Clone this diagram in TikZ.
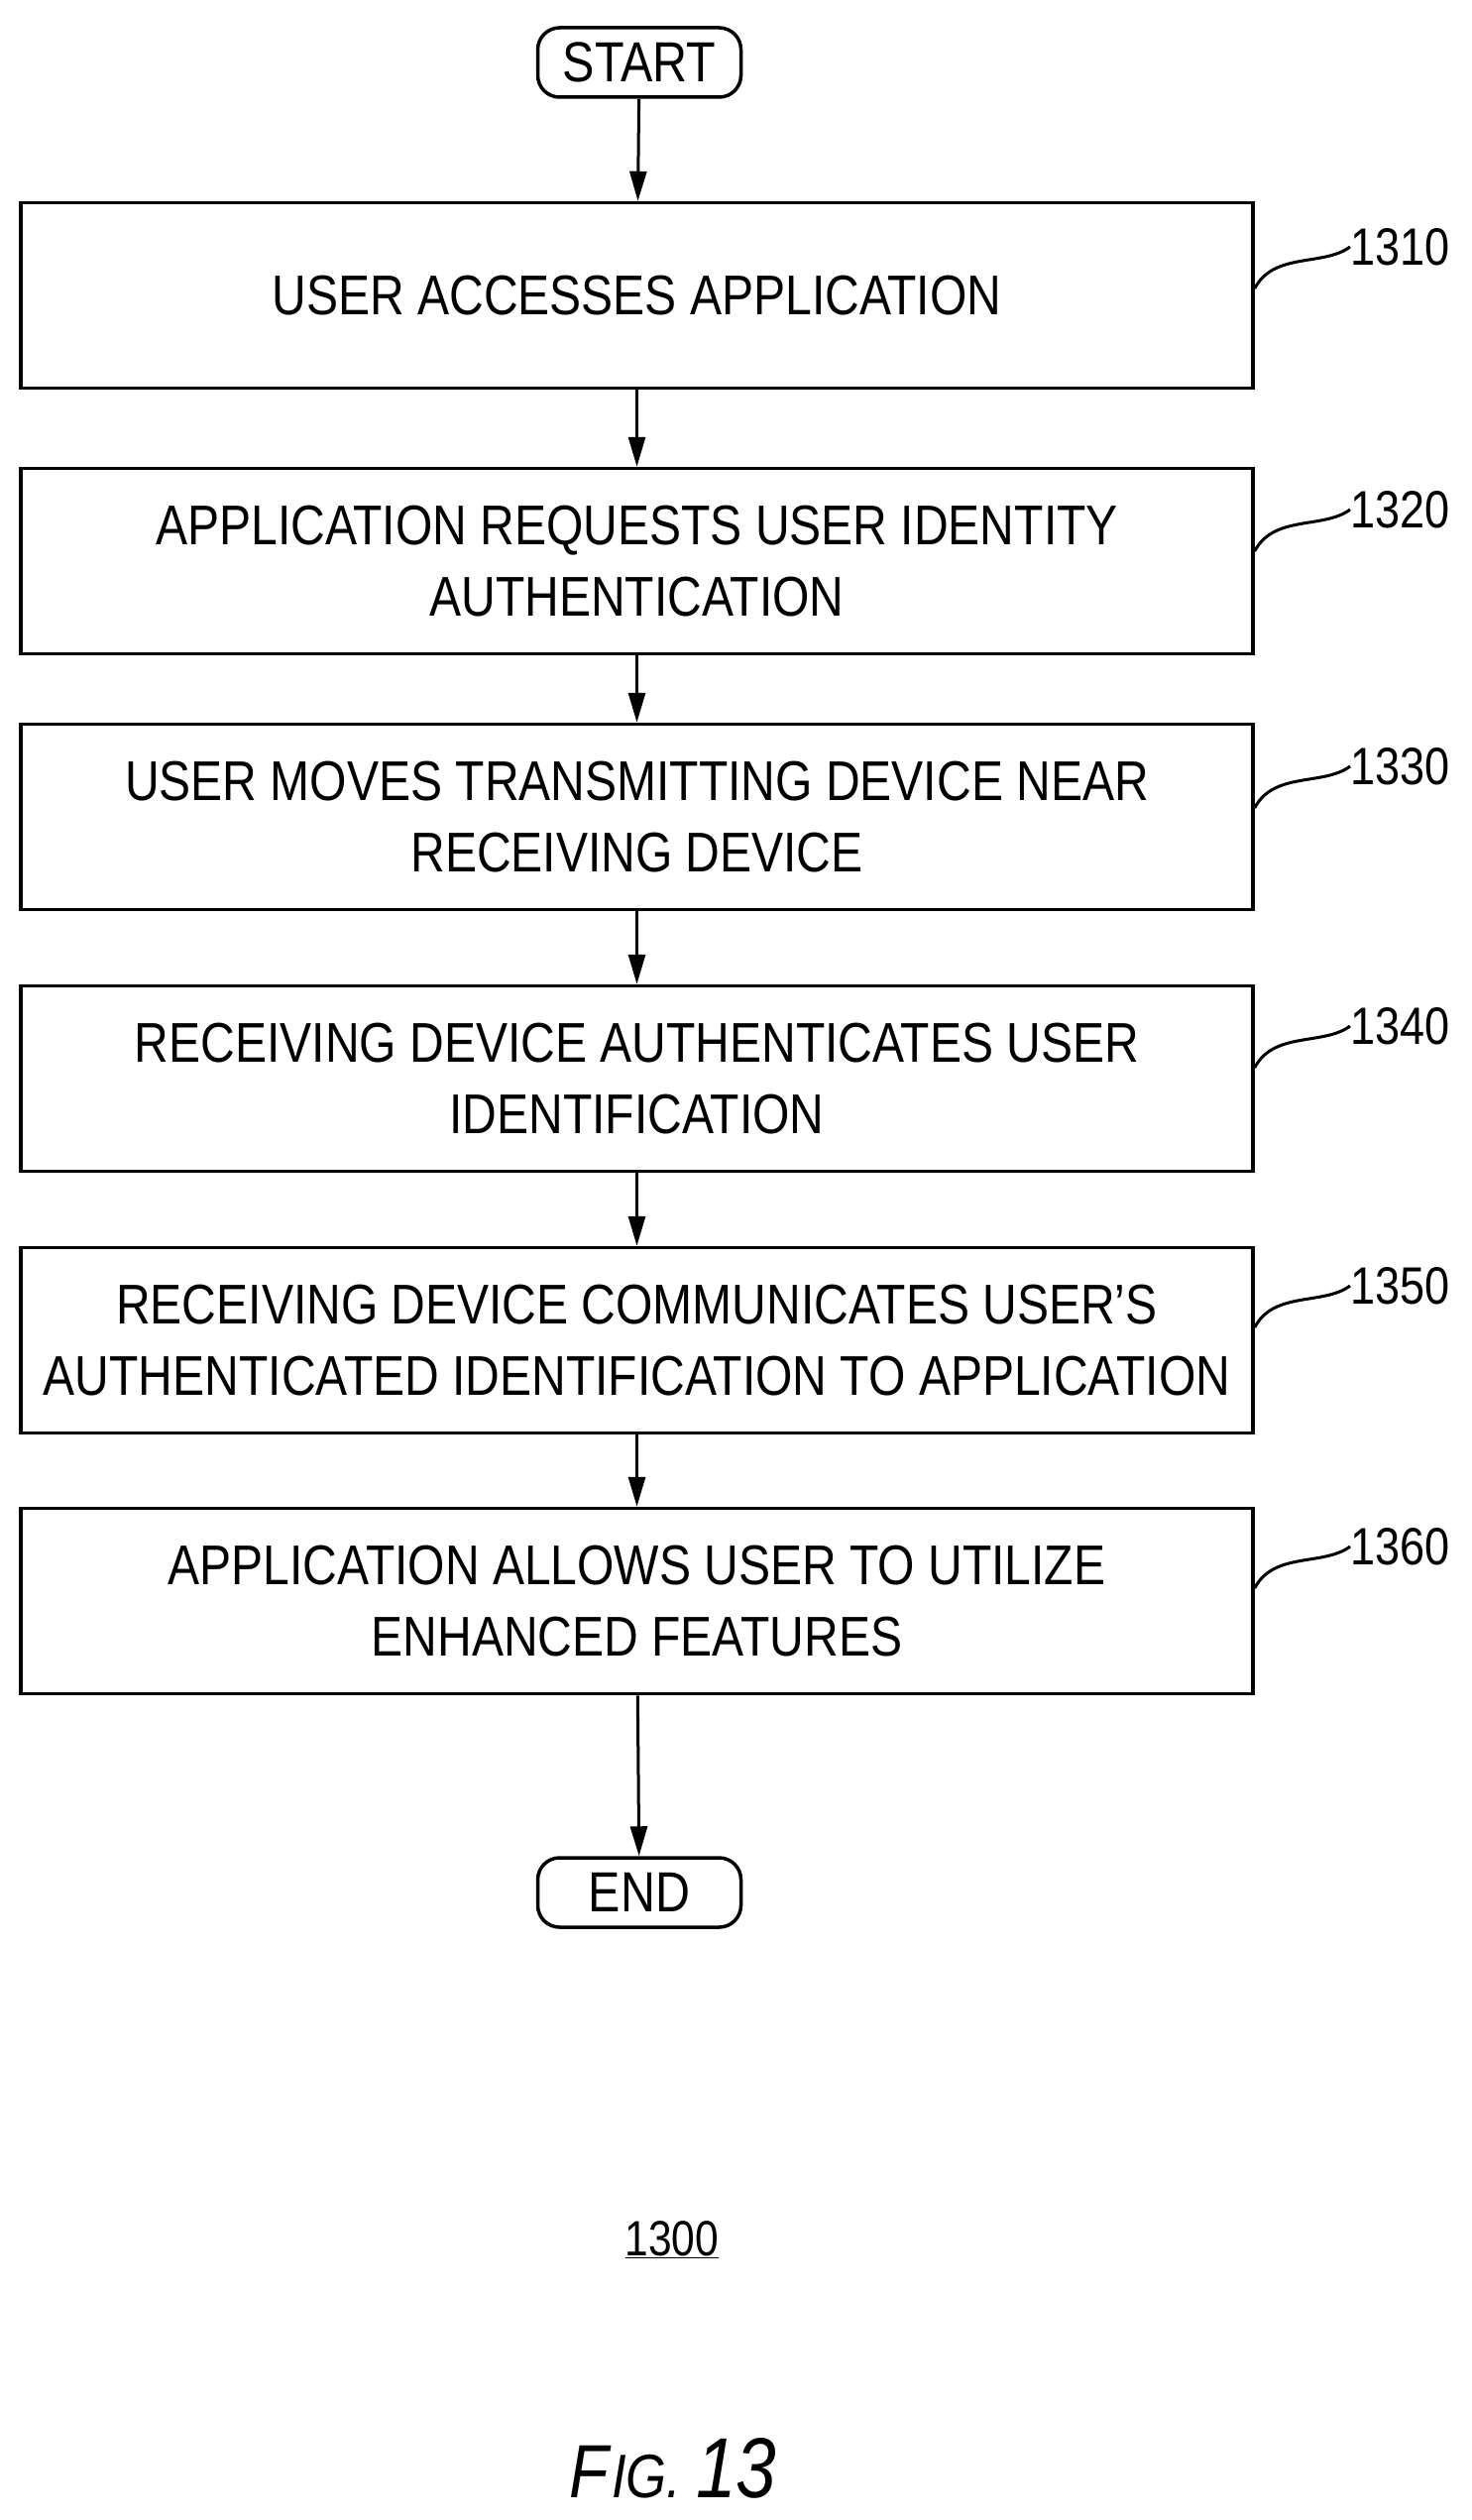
\documentclass[tikz,border=0pt]{standalone}
\usepackage{fontspec}
\setmainfont[FakeStretch=0.85]{Liberation Sans}
\usetikzlibrary{arrows.meta}
\begin{document}
\begin{tikzpicture}[x=1pt,y=-1pt,
  box/.style={draw,line width=3.5pt,minimum width=1243pt,minimum height=187pt,align=center,font=\fontsize{56.5}{72}\selectfont,inner sep=0pt},
  term/.style={draw,line width=3.5pt,rounded corners=22pt,minimum width=205pt,minimum height=70pt,inner sep=0pt,font=\fontsize{57}{60}\selectfont},
  arr/.style={line width=3pt,-{Triangle[length=30pt,width=17pt]}},
  lab/.style={anchor=west,font=\fontsize{53}{55}\selectfont,inner sep=0pt},
  lead/.style={line width=3pt}]
\useasboundingbox (0,0) rectangle (1485,2542);
\node[term] (start) at (645,63) {START};
\node[box] (b1) at (642.5,298) {USER ACCESSES APPLICATION};
\node[box] (b2) at (642.5,566) {APPLICATION REQUESTS USER IDENTITY\\AUTHENTICATION};
\node[box] (b3) at (642.5,824) {USER MOVES TRANSMITTING DEVICE NEAR\\RECEIVING DEVICE};
\node[box] (b4) at (642.5,1088) {RECEIVING DEVICE AUTHENTICATES USER\\IDENTIFICATION};
\node[box] (b5) at (642.5,1352) {RECEIVING DEVICE COMMUNICATES USER'S\\AUTHENTICATED IDENTIFICATION TO APPLICATION};
\node[box] (b6) at (642.5,1615) {APPLICATION ALLOWS USER TO UTILIZE\\ENHANCED FEATURES};
\node[term] (end) at (645,1909) {END};
\draw[arr] (start) -- (b1);
\draw[arr] (b1) -- (b2);
\draw[arr] (b2) -- (b3);
\draw[arr] (b3) -- (b4);
\draw[arr] (b4) -- (b5);
\draw[arr] (b5) -- (b6);
\draw[arr] (b6) -- (end);
\foreach \b/\t/\y in {b1/1310/249,b2/1320/514,b3/1330/773,b4/1340/1035,b5/1350/1297,b6/1360/1560}{
  \node[lab] (l\t) at (1362,\y) {\t};
  \draw[lead] (\b.east |- 0,\y+42) .. controls (1285,\y+5) and (1335,\y+20) .. (l\t.west);
}
\node[font=\fontsize{50}{50}\selectfont] (fnum) at (678,2259) {\underline{1300}};
\node[font=\fontsize{76}{80}\selectfont] (fig) at (679,2490) {\textit{F}\fontsize{62}{60}\selectfont\textit{IG.} \fontsize{86}{80}\selectfont\textit{13}};
\end{tikzpicture}
\end{document}
